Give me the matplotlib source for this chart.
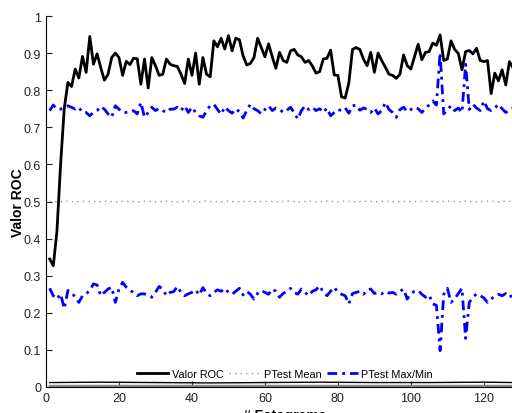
import numpy as np
import matplotlib.pyplot as plt

plt.rcParams['font.family'] = ['Liberation Sans', 'DejaVu Sans']

frames = list(range(1, 129))

roc = [0.345, 0.327, 0.42, 0.60, 0.75, 0.821, 0.81, 0.857, 0.833, 0.891,
       0.848, 0.945, 0.87, 0.898, 0.861, 0.827, 0.843, 0.888, 0.9, 0.888,
       0.84, 0.878, 0.869, 0.886, 0.885, 0.816, 0.884, 0.806, 0.888, 0.866,
       0.84, 0.843, 0.884, 0.87, 0.866, 0.864, 0.843, 0.818, 0.884, 0.84,
       0.9, 0.816, 0.888, 0.843, 0.836, 0.933, 0.917, 0.94, 0.911, 0.947,
       0.906, 0.94, 0.936, 0.893, 0.868, 0.872, 0.888, 0.94, 0.915, 0.89,
       0.925, 0.89, 0.859, 0.902, 0.88, 0.875, 0.906, 0.91, 0.895, 0.89,
       0.875, 0.88, 0.865, 0.846, 0.85, 0.884, 0.886, 0.908, 0.841, 0.84,
       0.782, 0.779, 0.82, 0.91, 0.915, 0.91, 0.884, 0.866, 0.902, 0.848,
       0.9, 0.88, 0.862, 0.843, 0.84, 0.832, 0.843, 0.895, 0.866, 0.857,
       0.89, 0.924, 0.882, 0.902, 0.904, 0.927, 0.921, 0.949, 0.88, 0.884,
       0.933, 0.91, 0.899, 0.855, 0.904, 0.907, 0.898, 0.913, 0.88, 0.877,
       0.88, 0.791, 0.846, 0.825, 0.855, 0.814, 0.877, 0.86]

ptest_mean = [0.500, 0.501, 0.499, 0.500, 0.500, 0.501, 0.500, 0.499, 0.500, 0.500,
              0.501, 0.500, 0.500, 0.499, 0.500, 0.501, 0.500, 0.500, 0.499, 0.500,
              0.501, 0.500, 0.500, 0.500, 0.499, 0.500, 0.501, 0.500, 0.500, 0.499,
              0.500, 0.500, 0.501, 0.500, 0.500, 0.499, 0.500, 0.500, 0.501, 0.500,
              0.500, 0.499, 0.500, 0.501, 0.500, 0.500, 0.500, 0.499, 0.500, 0.501,
              0.500, 0.500, 0.499, 0.500, 0.501, 0.500, 0.500, 0.499, 0.500, 0.500,
              0.501, 0.500, 0.499, 0.500, 0.500, 0.501, 0.502, 0.500, 0.499, 0.500,
              0.500, 0.501, 0.500, 0.499, 0.500, 0.500, 0.501, 0.500, 0.500, 0.499,
              0.500, 0.501, 0.500, 0.500, 0.499, 0.500, 0.500, 0.501, 0.500, 0.500,
              0.499, 0.500, 0.501, 0.500, 0.500, 0.500, 0.499, 0.500, 0.501, 0.500,
              0.500, 0.499, 0.500, 0.500, 0.501, 0.500, 0.499, 0.500, 0.500, 0.501,
              0.500, 0.500, 0.499, 0.500, 0.501, 0.500, 0.500, 0.499, 0.500, 0.500,
              0.501, 0.500, 0.500, 0.499, 0.500, 0.501, 0.500, 0.500]

ptest_max = [0.745, 0.760, 0.749, 0.749, 0.754, 0.758, 0.754, 0.749, 0.754, 0.740,
             0.740, 0.731, 0.740, 0.745, 0.756, 0.749, 0.736, 0.727, 0.758, 0.749,
             0.740, 0.740, 0.740, 0.745, 0.736, 0.767, 0.727, 0.740, 0.754, 0.745,
             0.751, 0.745, 0.740, 0.749, 0.749, 0.754, 0.745, 0.758, 0.740, 0.754,
             0.740, 0.731, 0.727, 0.745, 0.758, 0.762, 0.748, 0.735, 0.755, 0.745,
             0.738, 0.750, 0.742, 0.725, 0.745, 0.762, 0.750, 0.745, 0.736, 0.748,
             0.758, 0.745, 0.752, 0.749, 0.740, 0.746, 0.754, 0.740, 0.722, 0.745,
             0.758, 0.748, 0.754, 0.745, 0.750, 0.740, 0.752, 0.731, 0.740, 0.748,
             0.745, 0.752, 0.738, 0.758, 0.760, 0.746, 0.752, 0.749, 0.740, 0.752,
             0.736, 0.745, 0.767, 0.748, 0.740, 0.727, 0.748, 0.754, 0.742, 0.748,
             0.754, 0.750, 0.740, 0.752, 0.760, 0.771, 0.760, 0.901, 0.736, 0.748,
             0.758, 0.745, 0.752, 0.740, 0.870, 0.748, 0.762, 0.752, 0.745, 0.771,
             0.750, 0.745, 0.752, 0.762, 0.750, 0.740, 0.745, 0.752]

ptest_min = [0.266, 0.246, 0.237, 0.251, 0.211, 0.260, 0.255, 0.242, 0.228, 0.246,
             0.251, 0.260, 0.278, 0.275, 0.246, 0.255, 0.264, 0.269, 0.228, 0.264,
             0.282, 0.269, 0.260, 0.255, 0.246, 0.251, 0.251, 0.246, 0.242, 0.255,
             0.271, 0.264, 0.246, 0.255, 0.257, 0.271, 0.255, 0.246, 0.251, 0.255,
             0.262, 0.248, 0.268, 0.252, 0.246, 0.255, 0.262, 0.258, 0.266, 0.255,
             0.250, 0.258, 0.266, 0.248, 0.258, 0.250, 0.237, 0.252, 0.260, 0.255,
             0.250, 0.264, 0.258, 0.242, 0.252, 0.258, 0.266, 0.255, 0.250, 0.264,
             0.255, 0.246, 0.258, 0.262, 0.273, 0.255, 0.246, 0.258, 0.269, 0.255,
             0.250, 0.246, 0.224, 0.252, 0.255, 0.258, 0.250, 0.262, 0.264, 0.252,
             0.255, 0.251, 0.258, 0.253, 0.255, 0.250, 0.258, 0.264, 0.237, 0.252,
             0.258, 0.260, 0.250, 0.242, 0.248, 0.224, 0.220, 0.098, 0.250, 0.266,
             0.228, 0.237, 0.252, 0.266, 0.131, 0.228, 0.242, 0.251, 0.246, 0.240,
             0.228, 0.237, 0.246, 0.250, 0.246, 0.252, 0.242, 0.248]

# low curves near zero (not in legend)
low_frames = [1, 15, 30, 45, 60, 75, 90, 105, 120, 128]
roc_low = [0.012, 0.013, 0.012, 0.011, 0.012, 0.013, 0.012, 0.012, 0.013, 0.012]
gray_low = [0.004, 0.004, 0.004, 0.004, 0.004, 0.004, 0.004, 0.004, 0.004, 0.004]

fig = plt.figure(figsize=(5.12, 4.14), dpi=100)
ax = fig.add_axes([46 / 512, 26 / 414, 478 / 512, 371 / 414])

dashdot = (0, (3.5, 1.8, 1, 1.8))
ax.plot(frames, roc, color='black', lw=2, label='Valor ROC')
ax.plot(frames, ptest_mean, color='#999999', lw=1, linestyle=(0, (1, 3)), label='PTest Mean')
ax.plot(frames, ptest_max, color='blue', lw=2, linestyle=dashdot, label='PTest Max/Min')
ax.plot(frames, ptest_min, color='blue', lw=2, linestyle=dashdot)
ax.plot(low_frames, gray_low, color='#888888', lw=2.5)
ax.plot(low_frames, roc_low, color='black', lw=1)

ax.set_xlim(0, 131)
ax.set_ylim(0, 1)
ax.set_xticks([0, 20, 40, 60, 80, 100, 120])
ax.set_yticks([0, 0.1, 0.2, 0.3, 0.4, 0.5, 0.6, 0.7, 0.8, 0.9, 1])
ax.set_yticklabels(['0', '0.1', '0.2', '0.3', '0.4', '0.5', '0.6', '0.7', '0.8', '0.9', '1'])
ax.tick_params(direction='in', labelsize=9, length=4, colors='#222222')
ax.spines[['right', 'top']].set_visible(False)

ax.set_xlabel('# Fotograma', fontsize=10, fontweight='bold', labelpad=3)
ax.set_ylabel('Valor ROC', fontsize=10, fontweight='bold', labelpad=-1)

ax.legend(loc='lower center', bbox_to_anchor=(0.5, -0.005), ncol=3, frameon=False,
          fontsize=7.8, handlelength=2.9, columnspacing=0.5, handletextpad=0.3)

fig.savefig('out.png', dpi=100)
